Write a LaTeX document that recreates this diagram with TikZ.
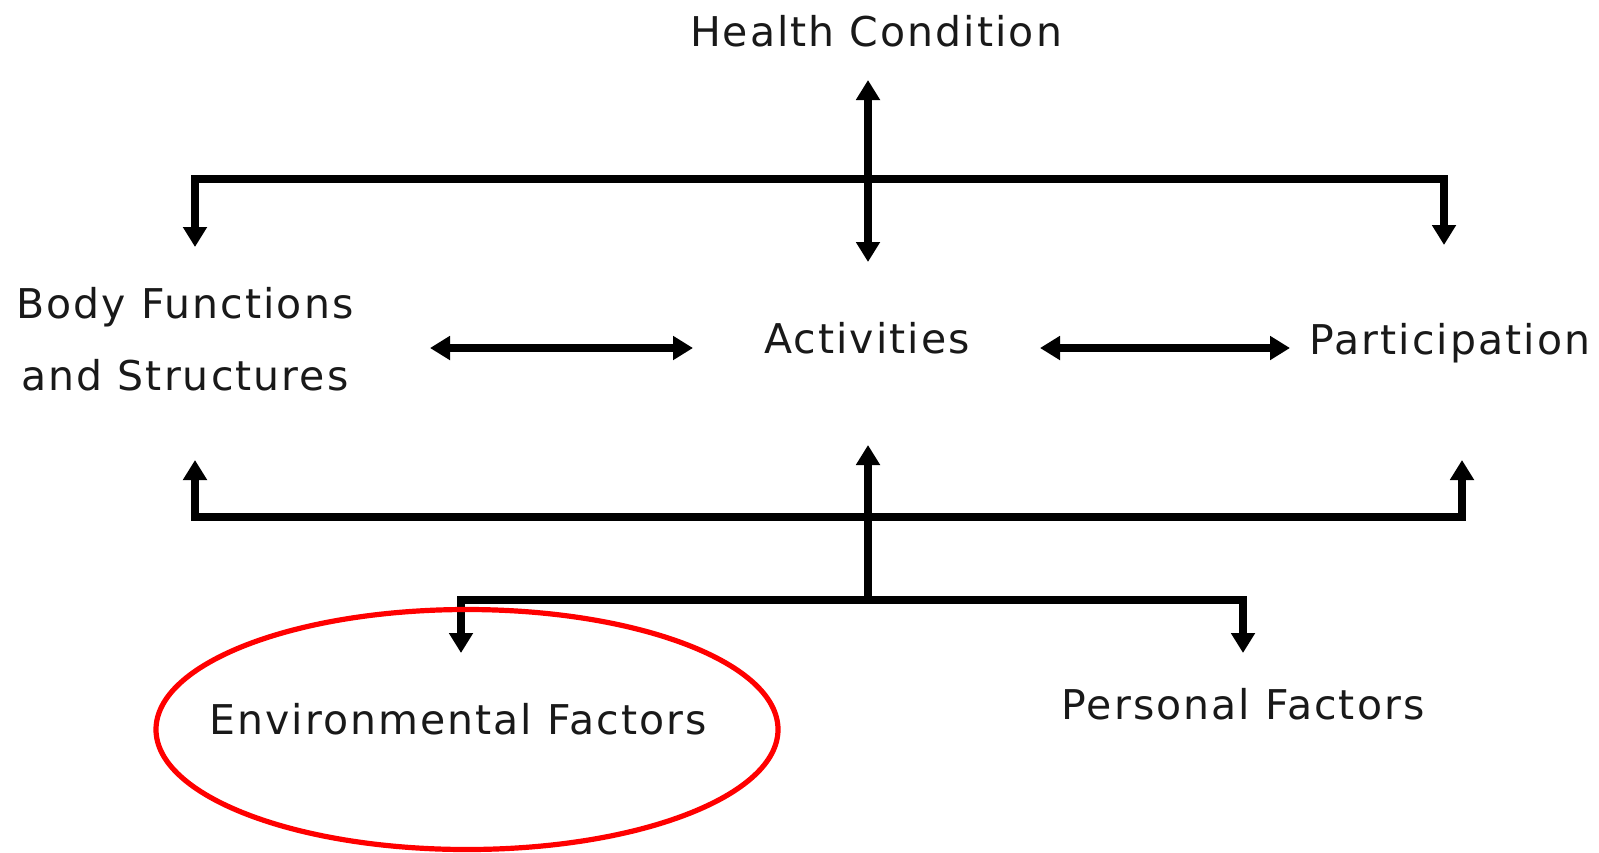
\documentclass[tikz,border=0pt]{standalone}
\usepackage{fontspec}
\setmainfont{DejaVu Sans}[LetterSpace=5]
\usetikzlibrary{arrows.meta}
\begin{document}
\begin{tikzpicture}[x=0.5pt,y=-0.5pt,
  lbl/.style={font=\fontsize{20.5pt}{36pt}\selectfont, inner sep=0pt, anchor=base, text=black!90},
  conn/.style={line width=3.8pt, black},
  tip/.style={-{Triangle[width=11.5pt,length=10pt]}},
  tips/.style={{Triangle[width=11.5pt,length=10pt]}-{Triangle[width=11.5pt,length=10pt]}},
  hl/.style={draw=red, line width=2.6pt}]
\useasboundingbox[fill=white] (0,0) rectangle (1599,852);
% text nodes
\node[lbl] (hc) at (876,46) {Health Condition};
\node[lbl, align=center] (bf) at (185,390) {Body Functions\\and Structures};
\node[lbl] (act) at (867,353) {Activities};
\node[lbl] (par) at (1450,354) {Participation};
\node[lbl] (ef) at (458,734) {Environmental Factors};
\node[lbl] (pf) at (1243,719) {Personal Factors};
% connector end points
\coordinate (hcTip) at (868,80);
\coordinate (actTop) at (868,262);
\coordinate (topJ) at (868,179);
\coordinate (bfTop) at (195,247);
\coordinate (parTop) at (1444,245);
\coordinate (bfR) at (430,348);
\coordinate (actL) at (693,348);
\coordinate (actR) at (1040,348);
\coordinate (parL) at (1290,348);
\coordinate (botJ) at (868,517);
\coordinate (bfBot) at (195,460);
\coordinate (parBot) at (1462,460);
\coordinate (actBot) at (868,445);
\coordinate (lowJ) at (868,597);
\coordinate (lowBar) at (868,600);
\coordinate (efTop) at (461,653);
\coordinate (pfTop) at (1243,653);
% connectors
\draw[conn,tips] (hcTip) -- (actTop);
\draw[conn,tip] (topJ) -| (bfTop);
\draw[conn,tip] (topJ) -| (parTop);
\draw[conn,tips] (bfR) -- (actL);
\draw[conn,tips] (actR) -- (parL);
\draw[conn,tip] (botJ) -| (bfBot);
\draw[conn,tip] (botJ) -| (parBot);
\draw[conn,tip] (lowJ) -- (actBot);
\draw[conn,tip] (lowBar) -| (efTop);
\draw[conn,tip] (lowBar) -| (pfTop);
% highlight
\coordinate (ellC) at (467,729.5);
\draw[hl] (ellC) ellipse [x radius=155.5pt, y radius=60pt];
\end{tikzpicture}
\end{document}
